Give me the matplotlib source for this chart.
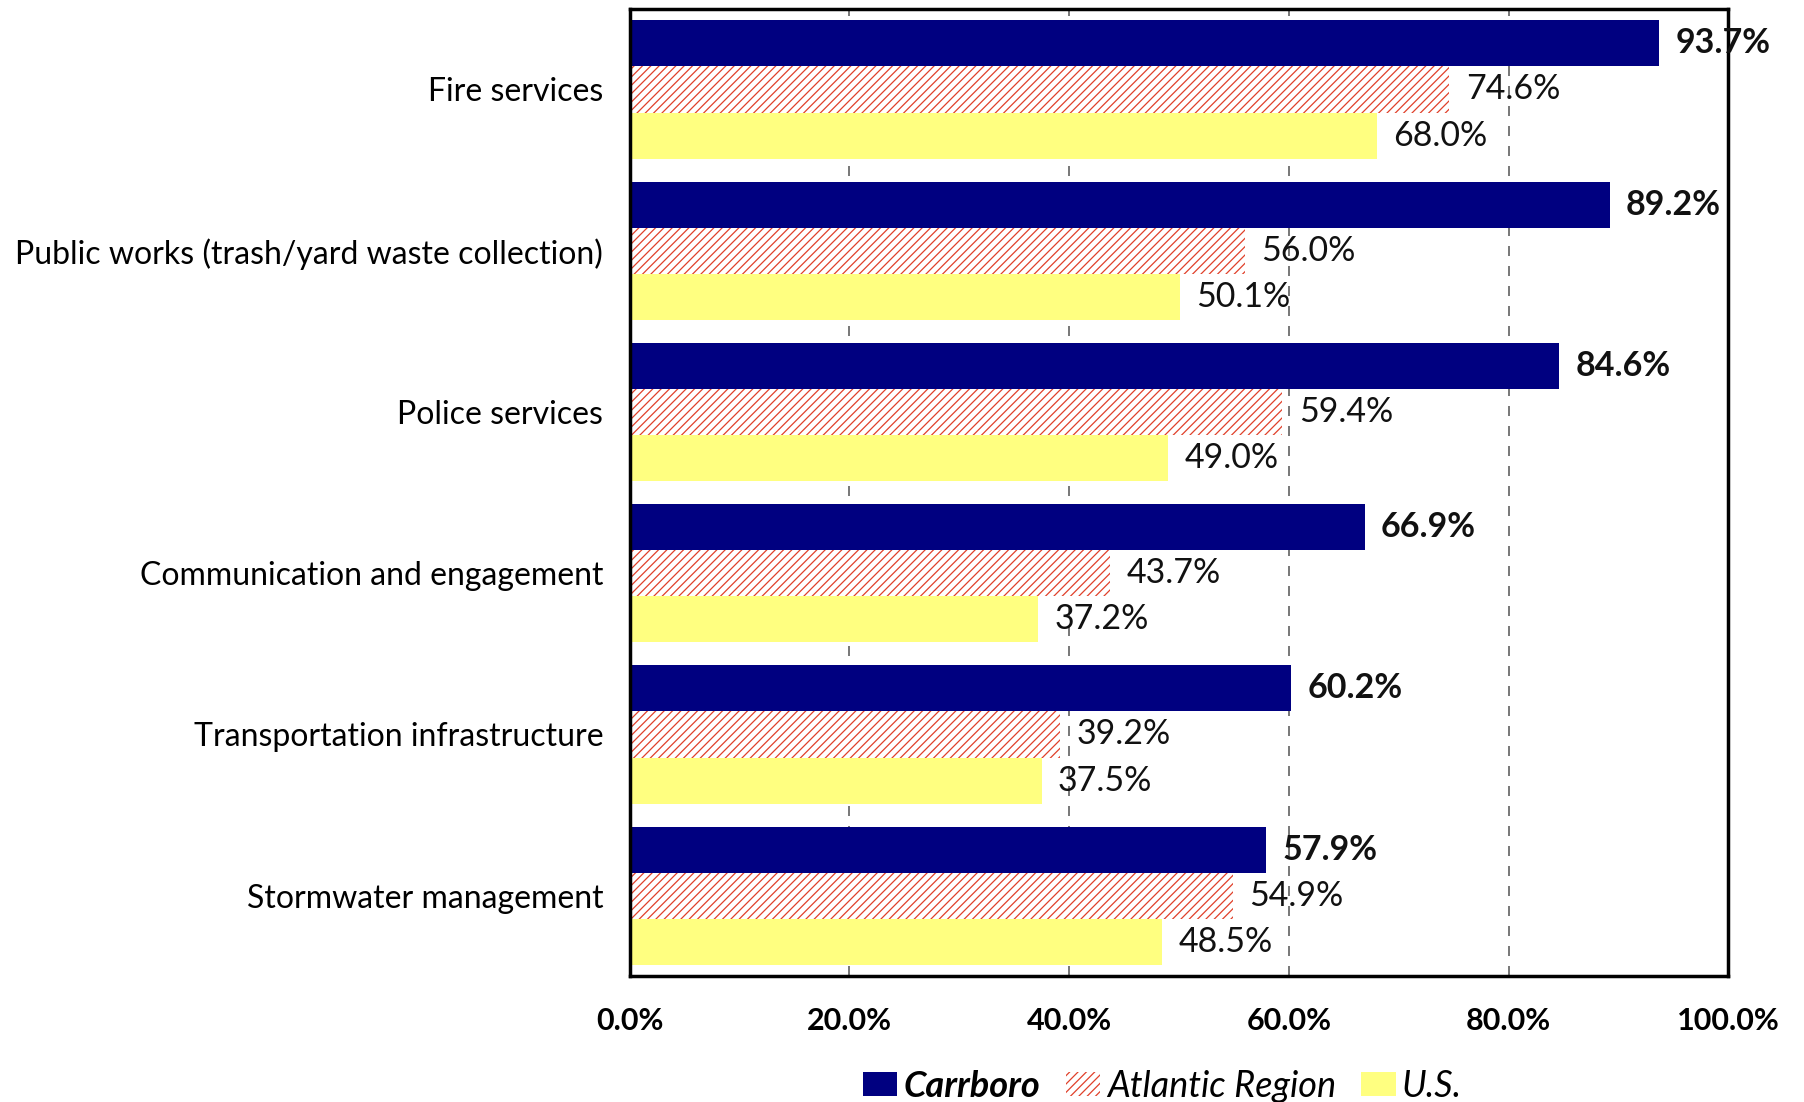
import numpy as np
import matplotlib
matplotlib.use("Agg")
import matplotlib.pyplot as plt
from matplotlib.patches import Patch

plt.rcParams['font.family'] = ['Lato', 'DejaVu Sans']
plt.rcParams['hatch.linewidth'] = 0.9
plt.rcParams['hatch.color'] = '#E0402A'

# данные
categories = ["Fire services",
              "Public works (trash/yard waste collection)",
              "Police services",
              "Communication and engagement",
              "Transportation infrastructure",
              "Stormwater management"]
carrboro = [93.7, 89.2, 84.6, 66.9, 60.2, 57.9]
atlantic = [74.6, 56.0, 59.4, 43.7, 39.2, 54.9]
us = [68.0, 50.1, 49.0, 37.2, 37.5, 48.5]
series_names = ["Carrboro", "Atlantic Region", "U.S."]
xticks = [0, 20, 40, 60, 80, 100]

fig = plt.figure(figsize=(18.04, 11.02), dpi=100)
ax = fig.add_axes([0.349, 0.114, 0.609, 0.878])

y = np.arange(len(categories))
h = 0.286

b1 = ax.barh(y - h, carrboro, height=h, color='#000080', zorder=2)
b2 = ax.barh(y, atlantic, height=h, color='white', edgecolor='#E0402A',
             linewidth=0, hatch='////', zorder=2)
b3 = ax.barh(y + h, us, height=h, color='#FFFF80', zorder=2)

# подписи значений
for bars, vals, wt in [(b1, carrboro, 'bold'), (b2, atlantic, 'normal'), (b3, us, 'normal')]:
    for bar, v in zip(bars, vals):
        ax.text(v + 1.5, bar.get_y() + bar.get_height() / 2, f"{v:.1f}%",
                va='center', ha='left', fontsize=24.5, fontweight=wt,
                color='#111111', zorder=5, clip_on=False)

ax.set_xlim(0, 100)
ax.set_ylim(len(categories) - 0.5, -0.5)
ax.set_yticks(y)
ax.set_yticklabels(categories, fontsize=23)
ax.tick_params(axis='y', length=0, pad=19)
ax.set_xticks(xticks)
ax.set_xticklabels([f"{t:.1f}%" for t in xticks], fontsize=22, fontweight='bold')
ax.tick_params(axis='x', length=0, pad=22)

ax.xaxis.grid(True, linestyle=(0, (6, 6)), color='#606060', linewidth=1.2, zorder=0)
ax.set_axisbelow(True)
for s in ax.spines.values():
    s.set_linewidth(2.5)
    s.set_color('black')

handles = [Patch(facecolor='#000080', label=series_names[0]),
           Patch(facecolor='white', edgecolor='#E0402A', linewidth=0, hatch='////', label=series_names[1]),
           Patch(facecolor='#FFFF80', label=series_names[2])]
leg = fig.legend(handles=handles, loc='center', bbox_to_anchor=(0.6445, 0.014), ncol=3,
                 frameon=False, fontsize=26, handlelength=0.95, handleheight=0.64,
                 columnspacing=0.7, handletextpad=0.18)
for t in leg.get_texts():
    t.set_fontstyle('italic')
leg.get_texts()[0].set_fontweight('bold')

plt.savefig("out.png", dpi=100)
